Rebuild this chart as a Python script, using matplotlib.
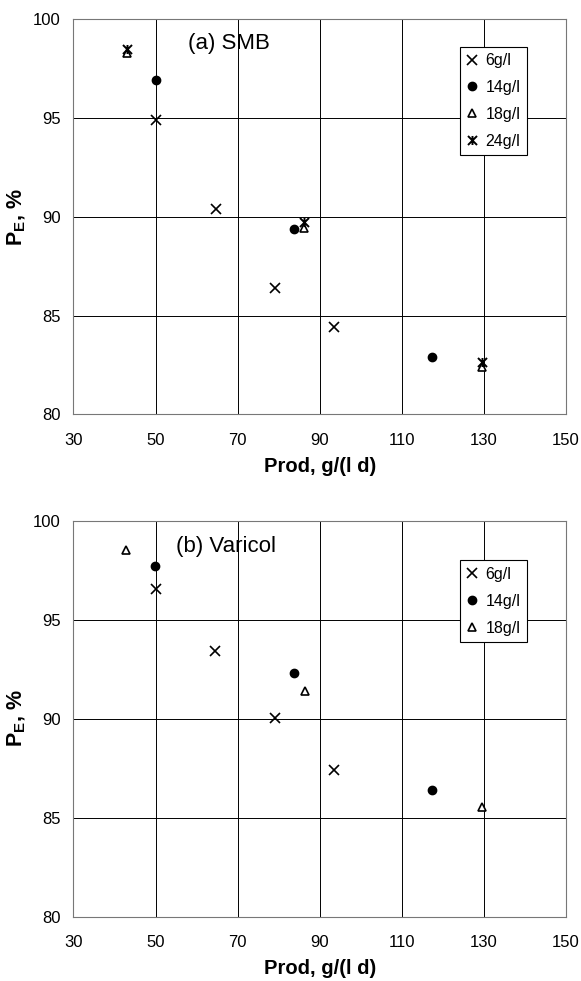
import numpy as np
import matplotlib
matplotlib.use("Agg")
import matplotlib.pyplot as plt
from matplotlib.path import Path

plt.rcParams['font.family'] = ['Liberation Sans', 'DejaVu Sans']
plt.rcParams['mathtext.fontset'] = 'custom'
plt.rcParams['mathtext.rm'] = 'Liberation Sans'
plt.rcParams['mathtext.bf'] = 'Liberation Sans:bold'

# (a) SMB
smb_6_x = [50.1, 64.8, 79.0, 93.5]
smb_6_y = [94.9, 90.4, 86.4, 84.4]
smb_14_x = [50.0, 83.7, 117.3]
smb_14_y = [96.9, 89.4, 82.9]
smb_18_x = [43.0, 86.2, 129.6]
smb_18_y = [98.3, 89.45, 82.4]
smb_24_x = [43.0, 86.2, 129.6]
smb_24_y = [98.5, 89.75, 82.65]

# (b) Varicol
var_6_x = [50.1, 64.5, 79.0, 93.4]
var_6_y = [96.55, 93.4, 90.05, 87.4]
var_14_x = [49.9, 83.8, 117.4]
var_14_y = [97.7, 92.3, 86.4]
var_18_x = [42.9, 86.3, 129.6]
var_18_y = [98.5, 91.4, 85.55]

x_ticks = [30, 50, 70, 90, 110, 130, 150]
y_ticks = [80, 85, 90, 95, 100]

# excel-style star marker: x with a vertical stroke
star = Path([(-1, -1), (1, 1), (-1, 1), (1, -1), (0, -1), (0, 1)],
            [Path.MOVETO, Path.LINETO, Path.MOVETO, Path.LINETO, Path.MOVETO, Path.LINETO])


def setup(ax, title, tx, ty):
    ax.set_xlim(30, 150)
    ax.set_ylim(80, 100)
    ax.set_xticks(x_ticks)
    ax.set_yticks(y_ticks)
    ax.tick_params(length=0, labelsize=12)
    ax.tick_params(axis='x', pad=13)
    ax.tick_params(axis='y', pad=9)
    ax.grid(True, color='black', linewidth=0.7)
    ax.set_axisbelow(True)
    for s in ax.spines.values():
        s.set_color('#777777')
        s.set_linewidth(0.8)
    ax.set_xlabel('Prod, g/(l d)', fontsize=14.5, fontweight='bold', labelpad=7)
    ax.set_ylabel(r'$\mathbf{P}_{\mathbf{E}}$, %', fontsize=15.5, fontweight='bold')
    ax.yaxis.set_label_coords(-0.092, 0.5)
    ax.text(tx, ty, title, transform=ax.transAxes, fontsize=16, va='center', ha='left')


fig = plt.figure(figsize=(5.81, 9.81), dpi=100)
ax1 = fig.add_axes([0.1265, 0.5775, 0.8477, 0.4031])
ax2 = fig.add_axes([0.1265, 0.0656, 0.8477, 0.4037])

kw_x = dict(marker='x', color='black', markersize=6.5, markeredgewidth=1.2, linestyle='none')
kw_o = dict(marker='o', color='black', markersize=6, linestyle='none')
kw_t = dict(marker='^', markerfacecolor='white', markeredgecolor='black', markersize=6,
            markeredgewidth=1.2, linestyle='none')
kw_s = dict(marker=star, color='black', markersize=6.5, markeredgewidth=1.4, linestyle='none')

setup(ax1, '(a) SMB', 0.233, 0.939)
ax1.plot(smb_6_x, smb_6_y, label='6g/l', **kw_x)
ax1.plot(smb_14_x, smb_14_y, label='14g/l', **kw_o)
ax1.plot(smb_18_x, smb_18_y, label='18g/l', **kw_t)
ax1.plot(smb_24_x, smb_24_y, label='24g/l', **kw_s)

setup(ax2, '(b) Varicol', 0.208, 0.934)
ax2.plot(var_6_x, var_6_y, label='6g/l', **kw_x)
ax2.plot(var_14_x, var_14_y, label='14g/l', **kw_o)
ax2.plot(var_18_x, var_18_y, label='18g/l', **kw_t)

for ax, ytop in [(ax1, 0.93), (ax2, 0.90)]:
    leg = ax.legend(loc='upper left', bbox_to_anchor=(0.785, ytop), borderaxespad=0,
                    fontsize=11.5, handlelength=0.7, handletextpad=0.5, borderpad=0.4,
                    labelspacing=0.75, fancybox=False, framealpha=1, numpoints=1)
    leg.get_frame().set_edgecolor('black')
    leg.get_frame().set_linewidth(0.8)

fig.savefig('out.png', dpi=100)
